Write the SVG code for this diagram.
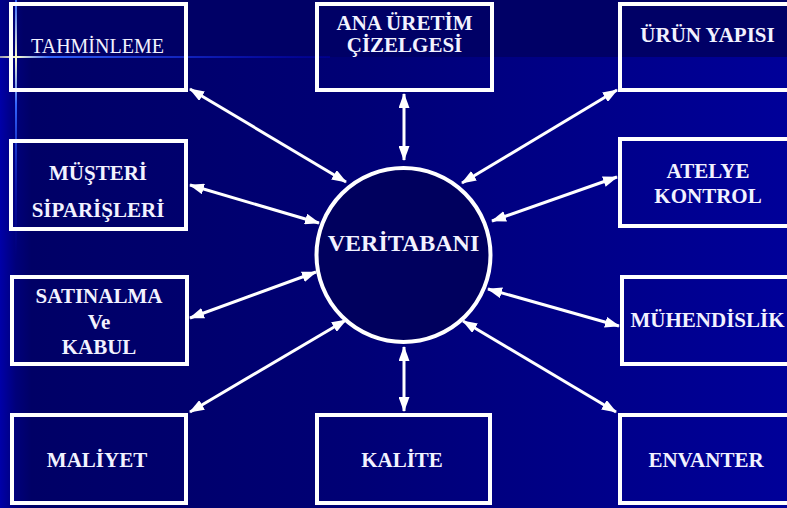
<svg xmlns="http://www.w3.org/2000/svg" width="787" height="508" viewBox="0 0 787 508">
<defs>
<linearGradient id="bgLow" x1="0" y1="0" x2="787" y2="0" gradientUnits="userSpaceOnUse">
<stop offset="0" stop-color="#0000a8"/>
<stop offset="0.02" stop-color="#00007a"/>
<stop offset="0.04" stop-color="#000066"/>
<stop offset="0.45" stop-color="#000075"/>
<stop offset="1" stop-color="#000099"/>
</linearGradient>
<linearGradient id="bgTop" x1="0" y1="0" x2="787" y2="0" gradientUnits="userSpaceOnUse">
<stop offset="0" stop-color="#00008a"/>
<stop offset="0.03" stop-color="#000066"/>
<stop offset="1" stop-color="#000066"/>
</linearGradient>
<linearGradient id="hline" x1="0" y1="0" x2="330" y2="0" gradientUnits="userSpaceOnUse">
<stop offset="0" stop-color="#ffffcc" stop-opacity="0.6"/>
<stop offset="0.05" stop-color="#ffffcc"/>
<stop offset="0.15" stop-color="#3366ff"/>
<stop offset="1" stop-color="#0000cc" stop-opacity="0.3"/>
</linearGradient>
<linearGradient id="vline" x1="0" y1="0" x2="0" y2="260" gradientUnits="userSpaceOnUse">
<stop offset="0" stop-color="#3366ff"/>
<stop offset="0.22" stop-color="#ffffcc"/>
<stop offset="0.4" stop-color="#3366ff"/>
<stop offset="1" stop-color="#0000aa" stop-opacity="0"/>
</linearGradient>
<marker id="ah" viewBox="0 0 15 11" refX="14" refY="5.5" markerWidth="15" markerHeight="11" markerUnits="userSpaceOnUse" orient="auto-start-reverse">
<path d="M0,0 L15,5.5 L0,11 z" fill="#ffffff"/>
</marker>
</defs>
<style>
.box{fill:none;stroke:#ffffff;stroke-width:4}
.t{font-family:"Liberation Serif","Times New Roman",serif;font-size:21px;font-weight:bold;fill:#f2f2ff;text-anchor:middle}
.tn{font-family:"Liberation Serif","Times New Roman",serif;font-size:20px;fill:#f2f2ff;text-anchor:middle}
.c{stroke:#ffffff;stroke-width:3;fill:none;marker-start:url(#ah);marker-end:url(#ah)}
</style>
<rect x="0" y="0" width="787" height="508" fill="url(#bgLow)"/>
<rect x="0" y="0" width="787" height="57" fill="url(#bgTop)"/>
<rect x="15" y="0" width="2" height="260" fill="url(#vline)"/>
<rect x="0" y="56" width="330" height="2" fill="url(#hline)"/>

<g id="connectors">
<line class="c" x1="190" y1="89" x2="346" y2="182"/>
<line class="c" x1="404" y1="94" x2="404" y2="160"/>
<line class="c" x1="617" y1="90" x2="462" y2="183"/>
<line class="c" x1="190" y1="185" x2="319" y2="223"/>
<line class="c" x1="190" y1="318" x2="316" y2="272"/>
<line class="c" x1="617" y1="177" x2="492" y2="221"/>
<line class="c" x1="488" y1="289" x2="619" y2="326"/>
<line class="c" x1="346" y1="320" x2="190" y2="412"/>
<line class="c" x1="404" y1="347" x2="404" y2="411"/>
<line class="c" x1="463" y1="321" x2="616" y2="412"/>
</g>

<g id="veritabani">
<circle cx="403.5" cy="255" r="87" fill="#00005e" stroke="#ffffff" stroke-width="4"/>
<text class="t" x="403.5" y="251" style="font-size:24px">VERİTABANI</text>
</g>

<g id="tahminleme">
<rect class="box" x="11" y="4" width="175" height="86"/>
<text class="tn" x="97.5" y="53">TAHMİNLEME</text>
</g>

<g id="ana-uretim">
<rect class="box" x="317" y="4" width="175" height="86"/>
<text class="t" x="404.5" y="30">ANA ÜRETİM</text>
<text class="t" x="404.5" y="52">ÇİZELGESİ</text>
</g>

<g id="urun-yapisi">
<rect class="box" x="620" y="4" width="175" height="86"/>
<text class="t" x="707.5" y="42">ÜRÜN YAPISI</text>
</g>

<g id="musteri">
<rect class="box" x="11" y="141" width="175" height="88"/>
<text class="t" x="98" y="180">MÜŞTERİ</text>
<text class="t" x="98" y="217">SİPARİŞLERİ</text>
</g>

<g id="atelye">
<rect class="box" x="620" y="139" width="175" height="87"/>
<text class="t" x="708" y="178">ATELYE</text>
<text class="t" x="708" y="203">KONTROL</text>
</g>

<g id="satinalma">
<rect class="box" x="12" y="277" width="175" height="87"/>
<text class="t" x="99" y="303">SATINALMA</text>
<text class="t" x="99" y="329">Ve</text>
<text class="t" x="99" y="354">KABUL</text>
</g>

<g id="muhendislik">
<rect class="box" x="622" y="277" width="175" height="87"/>
<text class="t" x="707.5" y="327">MÜHENDİSLİK</text>
</g>

<g id="maliyet">
<rect class="box" x="12" y="415" width="174" height="88"/>
<text class="t" x="97" y="467">MALİYET</text>
</g>

<g id="kalite">
<rect class="box" x="317" y="415" width="173" height="88"/>
<text class="t" x="402" y="467">KALİTE</text>
</g>

<g id="envanter">
<rect class="box" x="620" y="415" width="175" height="88"/>
<text class="t" x="706" y="467">ENVANTER</text>
</g>
</svg>
